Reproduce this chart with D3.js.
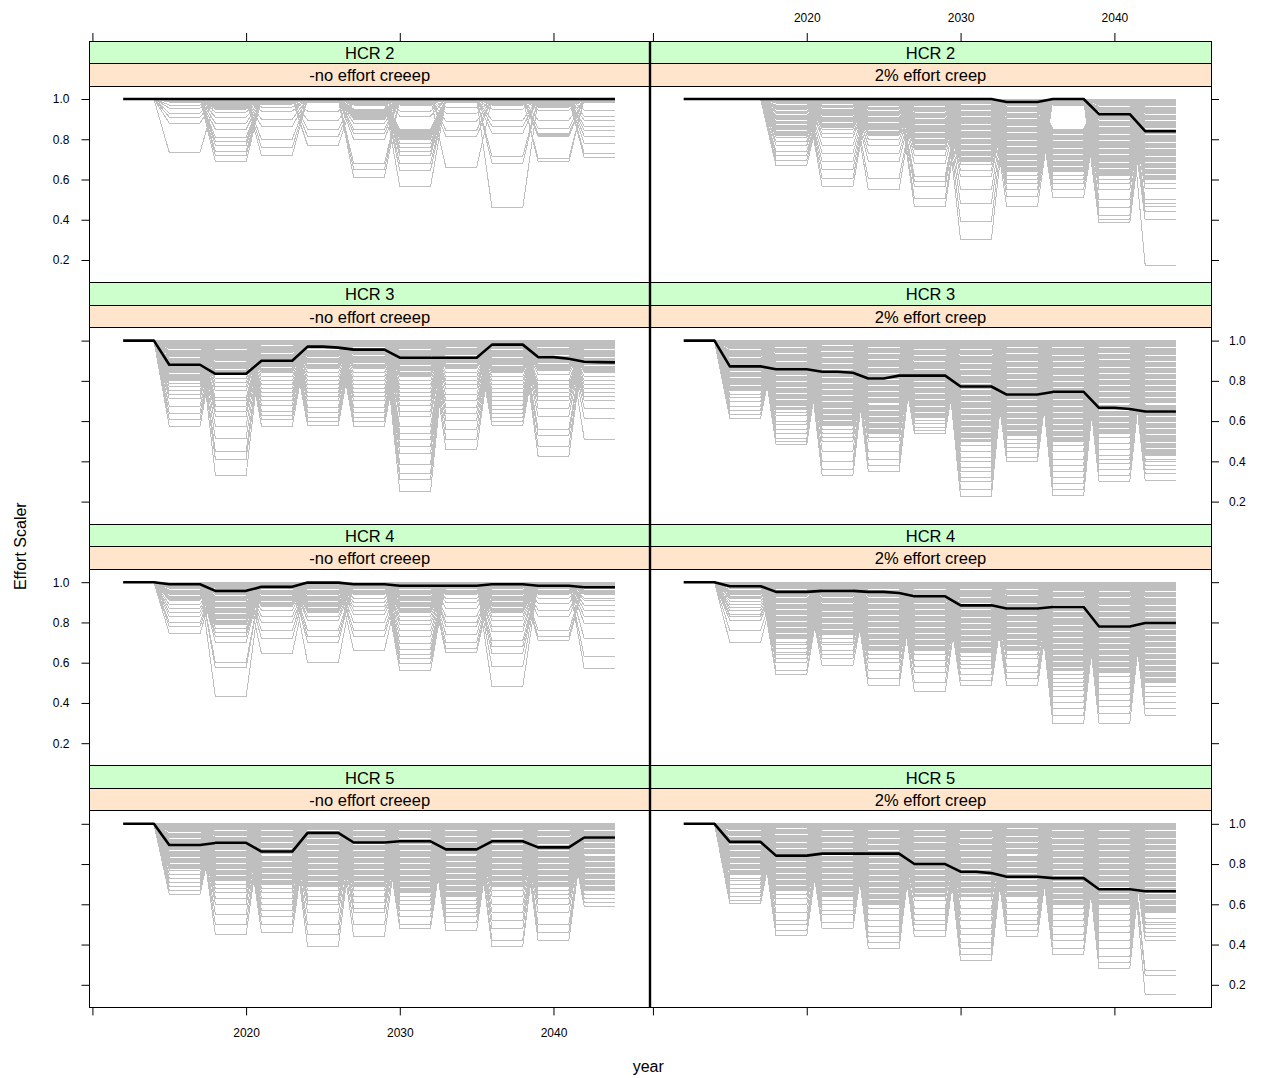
<!DOCTYPE html>
<html>
<head>
<meta charset="utf-8">
<script src="https://cdn.jsdelivr.net/npm/d3@7"></script>
<style>
  body { margin: 0; background: #fff; }
  svg { display: block; }
  text { font-family: "Liberation Sans", Arial, sans-serif; fill: #000; }
</style>
</head>
<body>
<svg id="chart" width="1266" height="1078"></svg>
<script>
// ---- data -------------------------------------------------------------
const medianYears = [2012, 2013, 2014, 2015, 2016, 2017, 2018, 2019, 2020, 2021, 2022,
  2023, 2024, 2025, 2026, 2027, 2028, 2029, 2030, 2031, 2032, 2033, 2034, 2035, 2036,
  2037, 2038, 2039, 2040, 2041, 2042, 2043, 2044];
const firstYear = 2012;
const startLevel = 1.0;                 // effort scaler before the first management block
const blockStarts = [2015, 2018, 2021, 2024, 2027, 2030, 2033, 2036, 2039, 2042];
const blockLength = 3;

const hcrLabels = ["HCR 2", "HCR 3", "HCR 4", "HCR 5"];
const creepLabels = ["-no effort creeep", "2% effort creep"];
const xTicks = [2010, 2020, 2030, 2040];
const xTickLabels = ["", "2020", "2030", "2040"];
const yTicks = [0.2, 0.4, 0.6, 0.8, 1.0];
const yTickLabels = ["0.2", "0.4", "0.6", "0.8", "1.0"];

// median effort scaler per year (black line)
const hcr2NoMedian = [1,1,1, 1,1,1, 1,1,1, 1,1,1, 1,1,1, 1,1,1, 1,1,1, 1,1,1, 1,1,1, 1,1,1, 1,1,1];
const hcr2CreepMedian = [1,1,1, 1,1,1, 1,1,1, 1,1,1, 1,1,1, 1,1,1, 1,1,1, 0.985,0.985,0.985, 1,1,1, 0.925,0.925,0.925, 0.84,0.84,0.84];
const hcr3NoMedian = [1,1,1, 0.88,0.88,0.88, 0.835,0.835,0.835, 0.9,0.9,0.9, 0.97,0.97,0.965, 0.955,0.955,0.955, 0.915,0.915,0.915, 0.915,0.915,0.915, 0.98,0.98,0.98, 0.918,0.918,0.91, 0.895,0.893,0.892];
const hcr3CreepMedian = [1,1,1, 0.872,0.872,0.872, 0.858,0.858,0.858, 0.845,0.845,0.84, 0.812,0.812,0.826, 0.826,0.826,0.826, 0.772,0.772,0.772, 0.732,0.732,0.732, 0.745,0.745,0.745, 0.666,0.666,0.66, 0.648,0.648,0.648];
const hcr4NoMedian = [1,1,1, 0.99,0.99,0.99, 0.957,0.957,0.957, 0.977,0.977,0.977, 0.998,0.998,0.998, 0.99,0.99,0.99, 0.982,0.982,0.982, 0.982,0.982,0.982, 0.99,0.99,0.99, 0.982,0.982,0.982, 0.975,0.975,0.975];
const hcr4CreepMedian = [1,1,1, 0.98,0.98,0.98, 0.952,0.952,0.952, 0.957,0.957,0.957, 0.952,0.952,0.946, 0.93,0.93,0.93, 0.885,0.885,0.885, 0.869,0.869,0.869, 0.877,0.877,0.877, 0.78,0.78,0.78, 0.797,0.797,0.797];
const hcr5NoMedian = [1,1,1, 0.895,0.895,0.895, 0.905,0.905,0.905, 0.862,0.862,0.862, 0.955,0.955,0.955, 0.907,0.907,0.907, 0.913,0.913,0.913, 0.873,0.873,0.873, 0.913,0.913,0.913, 0.883,0.883,0.883, 0.932,0.932,0.932];
const hcr5CreepMedian = [1,1,1, 0.91,0.91,0.91, 0.842,0.842,0.842, 0.852,0.852,0.852, 0.852,0.852,0.852, 0.8,0.8,0.8, 0.762,0.762,0.755, 0.737,0.737,0.737, 0.73,0.73,0.73, 0.675,0.675,0.675, 0.665,0.665,0.665];

// iteration levels per management block: a number is a single iteration level,
// a [high, low] pair is a tightly stacked run of iteration levels
const hcr2NoLevels = [
  [[1.0,0.985], 0.97, 0.955, 0.93, 0.91, 0.88, 0.735],
  [[1.0,0.95], 0.935, 0.91, 0.88, 0.85, 0.81, 0.79, 0.77, 0.74, 0.72, 0.69],
  [[1.0,0.975], 0.96, 0.94, 0.9, 0.865, 0.8, 0.76, 0.72],
  [[1.0,0.985], 0.94, 0.895, 0.85, 0.815, 0.77],
  [[1.0,0.97], [0.95,0.9], 0.88, 0.85, 0.83, 0.8, 0.68, 0.65, 0.61],
  [[1.0,0.97], 0.94, 0.915, [0.85,0.8], 0.78, 0.76, 0.74, 0.72, 0.68, 0.645, 0.565],
  [[1.0,0.985], 0.96, 0.93, 0.89, 0.845, 0.815, 0.66],
  [[1.0,0.97], 0.95, 0.895, 0.865, 0.83, 0.715, 0.68, 0.46],
  [[1.0,0.96], 0.945, 0.895, 0.855, [0.83,0.815], 0.705, 0.69],
  [[1.0,0.985], 0.945, 0.915, 0.895, 0.865, 0.845, 0.815, 0.78, 0.73, 0.71]
];
const hcr2CreepLevels = [
  [1.0],
  [[1.0,0.98],[0.97,0.95],[0.94,0.93],[0.92,0.9],[0.89,0.88],[0.87,0.85],[0.84,0.82], 0.81, 0.79, 0.77, 0.74, 0.72, 0.695, 0.67],
  [[1.0,0.98],[0.97,0.96],[0.95,0.92],[0.91,0.89],[0.88,0.86], 0.85, 0.83, 0.81, 0.77, 0.73, 0.69, 0.65, 0.605, 0.565],
  [[1.0,0.97],[0.96,0.95],[0.94,0.92],[0.91,0.89],[0.88,0.85],[0.84,0.82], 0.8, 0.77, 0.73, 0.69, 0.605, 0.55],
  [[1.0,0.97],[0.96,0.94],[0.93,0.91],[0.9,0.88],[0.87,0.84],[0.83,0.81],[0.8,0.78],[0.77,0.75], 0.72, 0.68, 0.615, 0.59, 0.565, 0.505, 0.465],
  [[1.0,0.98],[0.97,0.95],[0.94,0.92],[0.91,0.88],[0.87,0.85],[0.84,0.81],[0.8,0.78],[0.77,0.75],[0.74,0.72],[0.71,0.69], 0.675, 0.645, 0.615, 0.55, 0.48, 0.39, 0.3],
  [[1.0,0.97],[0.96,0.94],[0.93,0.91],[0.9,0.87],[0.86,0.84],[0.83,0.8],[0.79,0.77],[0.76,0.73],[0.72,0.7],[0.69,0.67],[0.66,0.64], 0.62, 0.6, 0.58, 0.55, 0.515, 0.465],
  [[1.0,0.97],[0.85,0.83],[0.82,0.8],[0.79,0.76],[0.75,0.73],[0.72,0.7],[0.69,0.67],[0.66,0.64], 0.62, 0.6, 0.58, 0.55, 0.51],
  [[1.0,0.97],[0.96,0.94],[0.93,0.9],[0.89,0.87],[0.86,0.83],[0.82,0.8],[0.79,0.76],[0.75,0.73],[0.72,0.69],[0.68,0.66],[0.65,0.62], 0.6, 0.58, 0.55, 0.5, 0.46, 0.42, 0.4, 0.385],
  [[1.0,0.97],[0.96,0.93],[0.92,0.9],[0.89,0.86],[0.85,0.83],[0.82,0.79],[0.78,0.76],[0.75,0.72],[0.71,0.69],[0.68,0.66],[0.65,0.63],[0.62,0.6], 0.58, 0.555, 0.5, 0.48, 0.465, 0.44, 0.4, 0.175]
];
const hcr3NoLevels = [
  [[1.0,0.96],[0.95,0.92],[0.91,0.88],[0.87,0.84],[0.83,0.8], 0.785, 0.77, 0.75, 0.73, 0.71, 0.675, 0.64, 0.607, 0.574],
  [[1.0,0.96],[0.95,0.9],[0.89,0.86],[0.85,0.83], 0.81, 0.79, 0.77, 0.75, 0.715, 0.7, 0.675, 0.65, 0.625, 0.575, 0.515, 0.45, 0.41, 0.33],
  [[1.0,0.98],[0.97,0.94],[0.93,0.9],[0.89,0.87],[0.86,0.84], 0.82, 0.8, 0.78, 0.76, 0.74, 0.72, 0.7, 0.68, 0.65, 0.63, 0.61, 0.575],
  [[1.0,0.96],[0.95,0.92],[0.91,0.89],[0.88,0.86], 0.84, 0.82, 0.8, 0.78, 0.76, 0.74, 0.72, 0.7, 0.67, 0.645, 0.62, 0.6, 0.58],
  [[1.0,0.97],[0.96,0.93],[0.92,0.89],[0.88,0.86], 0.84, 0.82, 0.8, 0.78, 0.76, 0.74, 0.72, 0.7, 0.67, 0.645, 0.62, 0.6, 0.575],
  [[1.0,0.96],[0.95,0.92],[0.91,0.88],[0.87,0.85],[0.84,0.82], 0.8, 0.78, 0.76, 0.74, 0.72, 0.7, 0.68, 0.65, 0.625, 0.575, 0.54, 0.51, 0.475, 0.44, 0.385, 0.34, 0.31, 0.25],
  [[1.0,0.97],[0.96,0.93],[0.92,0.89],[0.88,0.86], 0.84, 0.82, 0.8, 0.78, 0.76, 0.73, 0.7, 0.67, 0.64, 0.605, 0.56, 0.51, 0.46],
  [[1.0,0.96],[0.95,0.92],[0.91,0.88],[0.87,0.84], 0.82, 0.8, 0.78, 0.76, 0.74, 0.72, 0.7, 0.68, 0.66, 0.64, 0.62, 0.6, 0.58],
  [[1.0,0.97],[0.96,0.93],[0.92,0.89],[0.88,0.85], 0.83, 0.8, 0.78, 0.76, 0.74, 0.72, 0.7, 0.665, 0.625, 0.56, 0.53, 0.475, 0.425],
  [[1.0,0.96],[0.95,0.92],[0.91,0.88],[0.87,0.84], 0.82, 0.8, 0.78, 0.76, 0.74, 0.72, 0.7, 0.665, 0.615, 0.51]
];
const hcr3CreepLevels = [
  [[1.0,0.96],[0.95,0.92],[0.91,0.88],[0.87,0.85],[0.84,0.82],[0.81,0.78],[0.77,0.75], 0.73, 0.715, 0.695, 0.675, 0.655, 0.635, 0.615],
  [[1.0,0.97],[0.96,0.94],[0.93,0.9],[0.89,0.86],[0.85,0.83],[0.82,0.8],[0.79,0.77],[0.76,0.74],[0.73,0.71],[0.7,0.68],[0.67,0.66], 0.645, 0.63, 0.6, 0.585, 0.56, 0.54, 0.515, 0.5, 0.485],
  [[1.0,0.98],[0.97,0.95],[0.94,0.92],[0.91,0.89],[0.88,0.86],[0.85,0.82],[0.81,0.79],[0.78,0.76],[0.75,0.73],[0.72,0.7],[0.69,0.67],[0.66,0.64],[0.63,0.61],[0.6,0.58], 0.56, 0.54, 0.52, 0.5, 0.45, 0.4, 0.36, 0.33],
  [[1.0,0.97],[0.96,0.94],[0.93,0.91],[0.9,0.87],[0.86,0.84],[0.83,0.81],[0.8,0.78],[0.77,0.75],[0.74,0.72],[0.71,0.69],[0.68,0.66],[0.65,0.63],[0.62,0.6],[0.59,0.57],[0.56,0.54], 0.52, 0.5, 0.45, 0.41, 0.38, 0.35],
  [[1.0,0.96],[0.95,0.93],[0.92,0.9],[0.89,0.86],[0.85,0.83],[0.82,0.8],[0.79,0.77],[0.76,0.74],[0.73,0.71],[0.7,0.68],[0.67,0.65],[0.64,0.62], 0.605, 0.59, 0.57, 0.555, 0.54],
  [[1.0,0.96],[0.95,0.93],[0.92,0.89],[0.88,0.86],[0.85,0.83],[0.82,0.79],[0.78,0.76],[0.75,0.73],[0.72,0.7],[0.69,0.67],[0.66,0.64],[0.63,0.61],[0.6,0.58],[0.57,0.55],[0.54,0.52],[0.51,0.5], 0.48, 0.45, 0.42, 0.4, 0.37, 0.35, 0.32, 0.3, 0.26, 0.225],
  [[1.0,0.97],[0.96,0.94],[0.93,0.9],[0.89,0.87],[0.86,0.84],[0.83,0.81],[0.8,0.77],[0.76,0.74],[0.73,0.71],[0.7,0.68],[0.67,0.65],[0.64,0.62],[0.61,0.59],[0.58,0.56],[0.55,0.53], 0.51, 0.49, 0.47, 0.45, 0.42, 0.4],
  [[1.0,0.97],[0.96,0.93],[0.92,0.9],[0.89,0.87],[0.86,0.83],[0.82,0.8],[0.79,0.77],[0.76,0.74],[0.73,0.71],[0.7,0.68],[0.67,0.65],[0.64,0.62],[0.61,0.59],[0.58,0.56],[0.55,0.53],[0.52,0.5], 0.48, 0.45, 0.41, 0.38, 0.35, 0.32, 0.29, 0.26, 0.23],
  [[1.0,0.97],[0.96,0.94],[0.93,0.91],[0.9,0.87],[0.86,0.84],[0.83,0.81],[0.8,0.78],[0.77,0.75],[0.74,0.72],[0.71,0.69],[0.68,0.66],[0.65,0.63],[0.62,0.6],[0.59,0.57],[0.56,0.54], 0.52, 0.49, 0.46, 0.43, 0.41, 0.39, 0.36, 0.33, 0.3],
  [[1.0,0.97],[0.96,0.93],[0.92,0.9],[0.89,0.87],[0.86,0.84],[0.83,0.81],[0.8,0.78],[0.77,0.75],[0.74,0.72],[0.71,0.69],[0.68,0.66],[0.65,0.63],[0.62,0.6],[0.59,0.57],[0.56,0.54],[0.53,0.5],[0.49,0.47],[0.46,0.43], 0.41, 0.4, 0.38, 0.36, 0.34, 0.305]
];
const hcr4NoLevels = [
  [[1.0,0.97],[0.96,0.94],[0.93,0.91], 0.89, 0.87, 0.85, 0.83, 0.8, 0.78, 0.745],
  [[1.0,0.97],[0.96,0.94],[0.93,0.91],[0.9,0.88],[0.87,0.85],[0.84,0.82],[0.81,0.79], 0.77, 0.75, 0.73, 0.7, 0.6, 0.575, 0.43],
  [[1.0,0.97],[0.96,0.94],[0.93,0.91],[0.9,0.88], 0.86, 0.83, 0.8, 0.76, 0.72, 0.645],
  [[1.0,0.97],[0.96,0.94],[0.93,0.91],[0.9,0.88],[0.87,0.85], 0.83, 0.81, 0.76, 0.73, 0.7, 0.6],
  [[1.0,0.97],[0.96,0.94], 0.92, 0.9, 0.88, 0.86, 0.84, 0.8, 0.76, 0.73, 0.66],
  [[1.0,0.97],[0.96,0.94],[0.93,0.91],[0.9,0.88],[0.87,0.85], 0.83, 0.81, 0.79, 0.76, 0.73, 0.695, 0.665, 0.64, 0.62, 0.595, 0.56],
  [[1.0,0.97],[0.96,0.94], 0.92, 0.9, 0.87, 0.83, 0.8, 0.78, 0.74, 0.7, 0.67, 0.65],
  [[1.0,0.97],[0.96,0.94],[0.93,0.91],[0.9,0.88],[0.87,0.85], 0.83, 0.81, 0.78, 0.755, 0.71, 0.68, 0.645, 0.58, 0.48],
  [[1.0,0.97],[0.96,0.94], 0.92, 0.895, 0.86, 0.83, 0.76, 0.73, 0.71],
  [[1.0,0.97],[0.96,0.94], 0.92, 0.91, 0.885, 0.86, 0.83, 0.795, 0.72, 0.63, 0.57]
];
const hcr4CreepLevels = [
  [[1.0,0.97],[0.96,0.94],[0.93,0.92], 0.905, 0.89, 0.875, 0.86, 0.84, 0.83, 0.81, 0.76, 0.7],
  [[1.0,0.97],[0.96,0.93],[0.92,0.9],[0.89,0.87],[0.86,0.84],[0.83,0.81],[0.8,0.78],[0.77,0.75],[0.74,0.72], 0.7, 0.69, 0.67, 0.65, 0.64, 0.62, 0.6, 0.56, 0.54],
  [[1.0,0.97],[0.96,0.93],[0.92,0.9],[0.89,0.86],[0.85,0.83],[0.82,0.8],[0.79,0.77],[0.76,0.74], 0.72, 0.7, 0.69, 0.66, 0.64, 0.62, 0.585],
  [[1.0,0.97],[0.96,0.93],[0.92,0.9],[0.89,0.87],[0.86,0.84],[0.83,0.81],[0.8,0.78],[0.77,0.75],[0.74,0.72],[0.71,0.69],[0.68,0.66], 0.64, 0.62, 0.6, 0.56, 0.52, 0.485],
  [[1.0,0.97],[0.96,0.94],[0.93,0.9],[0.89,0.87],[0.86,0.84],[0.83,0.81],[0.8,0.78],[0.77,0.75],[0.74,0.72],[0.71,0.69],[0.68,0.66], 0.64, 0.61, 0.58, 0.55, 0.5, 0.455],
  [[1.0,0.97],[0.96,0.93],[0.92,0.9],[0.89,0.87],[0.86,0.83],[0.82,0.8],[0.79,0.77],[0.76,0.74],[0.73,0.71],[0.7,0.68],[0.67,0.65], 0.63, 0.61, 0.59, 0.57, 0.54, 0.51, 0.485],
  [[1.0,0.97],[0.96,0.94],[0.93,0.9],[0.89,0.87],[0.86,0.84],[0.83,0.81],[0.8,0.78],[0.77,0.75],[0.74,0.72],[0.71,0.69],[0.68,0.66], 0.64, 0.62, 0.58, 0.55, 0.52, 0.485],
  [[1.0,0.96],[0.95,0.93],[0.92,0.89],[0.88,0.86],[0.85,0.83],[0.82,0.79],[0.78,0.76],[0.75,0.73],[0.72,0.7],[0.69,0.67],[0.66,0.64],[0.63,0.61],[0.6,0.58],[0.57,0.56], 0.54, 0.52, 0.5, 0.48, 0.46, 0.43, 0.4, 0.37, 0.34, 0.3],
  [[1.0,0.96],[0.95,0.93],[0.92,0.89],[0.88,0.86],[0.85,0.83],[0.82,0.79],[0.78,0.76],[0.75,0.73],[0.72,0.7],[0.69,0.67],[0.66,0.64],[0.63,0.61],[0.6,0.58],[0.57,0.55], 0.53, 0.5, 0.47, 0.44, 0.41, 0.38, 0.35, 0.3],
  [[1.0,0.96],[0.95,0.93],[0.92,0.89],[0.88,0.86],[0.85,0.83],[0.82,0.8],[0.79,0.77],[0.76,0.74],[0.73,0.71],[0.7,0.68],[0.67,0.65],[0.64,0.62],[0.61,0.59],[0.58,0.56],[0.55,0.53],[0.52,0.5], 0.48, 0.45, 0.43, 0.4, 0.37, 0.34]
];
const hcr5NoLevels = [
  [[1.0,0.96],[0.95,0.93],[0.92,0.9],[0.89,0.87],[0.86,0.84],[0.83,0.81],[0.8,0.78], 0.77, 0.75, 0.73, 0.71, 0.69, 0.67, 0.65],
  [[1.0,0.97],[0.96,0.94],[0.93,0.9],[0.89,0.87],[0.86,0.84],[0.83,0.81],[0.8,0.78],[0.77,0.75],[0.74,0.72], 0.7, 0.68, 0.66, 0.63, 0.6, 0.55, 0.5, 0.45],
  [[1.0,0.97],[0.96,0.94],[0.93,0.91],[0.9,0.88],[0.87,0.85],[0.84,0.82],[0.81,0.79],[0.78,0.76],[0.75,0.73],[0.72,0.7], 0.68, 0.66, 0.63, 0.6, 0.57, 0.54, 0.5, 0.46],
  [[1.0,0.97],[0.96,0.93],[0.92,0.9],[0.89,0.87],[0.86,0.84],[0.83,0.81],[0.8,0.78],[0.77,0.75],[0.74,0.72],[0.71,0.69], 0.67, 0.64, 0.62, 0.6, 0.56, 0.5, 0.45, 0.39],
  [[1.0,0.97],[0.96,0.94],[0.93,0.9],[0.89,0.87],[0.86,0.84],[0.83,0.81],[0.8,0.78],[0.77,0.75],[0.74,0.72],[0.71,0.69], 0.67, 0.64, 0.61, 0.58, 0.56, 0.5, 0.44],
  [[1.0,0.97],[0.96,0.93],[0.92,0.9],[0.89,0.87],[0.86,0.84],[0.83,0.81],[0.8,0.78],[0.77,0.75],[0.74,0.72],[0.71,0.69],[0.68,0.66], 0.64, 0.62, 0.6, 0.57, 0.54, 0.5, 0.48],
  [[1.0,0.97],[0.96,0.94],[0.93,0.91],[0.9,0.88],[0.87,0.85],[0.84,0.82],[0.81,0.79],[0.78,0.76],[0.75,0.73],[0.72,0.7],[0.69,0.67],[0.66,0.64], 0.62, 0.6, 0.58, 0.56, 0.54, 0.51, 0.47],
  [[1.0,0.97],[0.96,0.93],[0.92,0.9],[0.89,0.87],[0.86,0.84],[0.83,0.81],[0.8,0.78],[0.77,0.75],[0.74,0.72],[0.71,0.69], 0.67, 0.64, 0.6, 0.56, 0.52, 0.48, 0.42, 0.39],
  [[1.0,0.97],[0.96,0.94],[0.93,0.9],[0.89,0.87],[0.86,0.84],[0.83,0.81],[0.8,0.78],[0.77,0.75],[0.74,0.72],[0.71,0.69], 0.67, 0.65, 0.63, 0.6, 0.56, 0.5, 0.46, 0.42],
  [[1.0,0.97],[0.96,0.94],[0.93,0.91],[0.9,0.88],[0.87,0.85],[0.84,0.82],[0.81,0.79],[0.78,0.76],[0.75,0.73],[0.72,0.7],[0.69,0.67], 0.65, 0.63, 0.61, 0.59]
];
const hcr5CreepLevels = [
  [[1.0,0.97],[0.96,0.94],[0.93,0.9],[0.89,0.87],[0.86,0.84],[0.83,0.81],[0.8,0.78],[0.77,0.75], 0.73, 0.72, 0.7, 0.68, 0.66, 0.64, 0.62, 0.605],
  [[1.0,0.98],[0.97,0.95],[0.94,0.91],[0.9,0.88],[0.87,0.85],[0.84,0.82],[0.81,0.79],[0.78,0.76],[0.75,0.73],[0.72,0.7],[0.69,0.67], 0.65, 0.63, 0.6, 0.56, 0.52, 0.5, 0.47, 0.445],
  [[1.0,0.97],[0.96,0.94],[0.93,0.91],[0.9,0.88],[0.87,0.85],[0.84,0.82],[0.81,0.79],[0.78,0.76],[0.75,0.73],[0.72,0.7],[0.69,0.67],[0.66,0.64], 0.62, 0.6, 0.57, 0.55, 0.51, 0.48],
  [[1.0,0.97],[0.96,0.93],[0.92,0.9],[0.89,0.87],[0.86,0.84],[0.83,0.81],[0.8,0.78],[0.77,0.75],[0.74,0.72],[0.71,0.69],[0.68,0.66],[0.65,0.63],[0.62,0.6], 0.58, 0.55, 0.52, 0.49, 0.46, 0.44, 0.41, 0.38],
  [[1.0,0.97],[0.96,0.94],[0.93,0.91],[0.9,0.87],[0.86,0.84],[0.83,0.81],[0.8,0.78],[0.77,0.75],[0.74,0.72],[0.71,0.69],[0.68,0.66],[0.65,0.64], 0.62, 0.58, 0.55, 0.52, 0.5, 0.47, 0.44],
  [[1.0,0.97],[0.96,0.93],[0.92,0.9],[0.89,0.87],[0.86,0.84],[0.83,0.81],[0.8,0.78],[0.77,0.75],[0.74,0.72],[0.71,0.69],[0.68,0.66],[0.65,0.64], 0.62, 0.58, 0.55, 0.52, 0.48, 0.45, 0.41, 0.38, 0.35, 0.32],
  [[1.0,0.98],[0.97,0.94],[0.93,0.91],[0.9,0.88],[0.87,0.85],[0.84,0.82],[0.81,0.79],[0.78,0.76],[0.75,0.73],[0.72,0.7],[0.69,0.67],[0.66,0.64], 0.61, 0.58, 0.55, 0.52, 0.5, 0.47, 0.44],
  [[1.0,0.97],[0.96,0.93],[0.92,0.9],[0.89,0.87],[0.86,0.84],[0.83,0.81],[0.8,0.78],[0.77,0.75],[0.74,0.72],[0.71,0.69],[0.68,0.66],[0.65,0.63],[0.62,0.6], 0.58, 0.55, 0.52, 0.49, 0.45, 0.42, 0.38, 0.35],
  [[1.0,0.97],[0.96,0.93],[0.92,0.9],[0.89,0.87],[0.86,0.84],[0.83,0.81],[0.8,0.78],[0.77,0.75],[0.74,0.72],[0.71,0.69],[0.68,0.66],[0.65,0.63],[0.62,0.6], 0.58, 0.55, 0.52, 0.49, 0.46, 0.42, 0.38, 0.34, 0.31, 0.28],
  [[1.0,0.97],[0.96,0.93],[0.92,0.9],[0.89,0.87],[0.86,0.84],[0.83,0.81],[0.8,0.78],[0.77,0.75],[0.74,0.72],[0.71,0.69],[0.68,0.66],[0.65,0.63],[0.62,0.6],[0.59,0.56], 0.53, 0.51, 0.5, 0.48, 0.46, 0.44, 0.42, 0.27, 0.245, 0.15]
];

const panels = [
  { row: 0, col: 0, levels: hcr2NoLevels,    median: hcr2NoMedian },
  { row: 0, col: 1, levels: hcr2CreepLevels, median: hcr2CreepMedian },
  { row: 1, col: 0, levels: hcr3NoLevels,    median: hcr3NoMedian },
  { row: 1, col: 1, levels: hcr3CreepLevels, median: hcr3CreepMedian },
  { row: 2, col: 0, levels: hcr4NoLevels,    median: hcr4NoMedian },
  { row: 2, col: 1, levels: hcr4CreepLevels, median: hcr4CreepMedian },
  { row: 3, col: 0, levels: hcr5NoLevels,    median: hcr5NoMedian },
  { row: 3, col: 1, levels: hcr5CreepLevels, median: hcr5CreepMedian }
];

// ---- layout -----------------------------------------------------------
const frameLeft = 89.5, frameMid = 650, frameRight = 1211;
const frameTop = 41, rowH = 241.6, stripH = 22.5;
const frameBottom = frameTop + 4 * rowH;
const colRange = [[frameLeft, frameMid], [frameMid, frameRight]];
const xDomain = [2009.81, 2046.28];
const yDomain = [0.0877, 1.0646];
const grey = "#bfbfbf";
const stripColors = ["#ccffcc", "#ffe5cc"];
const tickLen = 8;

const svg = d3.select("#chart");
const defs = svg.append("defs");

function xScale(col) {
  return d3.scaleLinear().domain(xDomain).range(colRange[col]);
}
function yScale(row) {
  const top = frameTop + row * rowH + 2 * stripH;
  return d3.scaleLinear().domain(yDomain).range([frameTop + (row + 1) * rowH, top]);
}

// ---- panels -----------------------------------------------------------
panels.forEach((p, k) => {
  const x = xScale(p.col), y = yScale(p.row);
  const rowTop = frameTop + p.row * rowH;
  const plotTop = rowTop + 2 * stripH, plotBottom = rowTop + rowH;
  const [x0, x1] = colRange[p.col];

  defs.append("clipPath").attr("id", "clip" + k)
    .append("rect").attr("x", x0).attr("y", plotTop)
    .attr("width", x1 - x0).attr("height", plotBottom - plotTop);

  const g = svg.append("g").attr("clip-path", `url(#clip${k})`);
  const gl = g.append("g").attr("shape-rendering", "crispEdges");

  // level at the top of each block, where iterations that move enter and leave
  const tops = p.levels.map(b => d3.max(b, d => Array.isArray(d) ? d[0] : d));
  const line = d3.line().x(d => x(d[0])).y(d => y(d[1]));

  // constant effort before the first block
  gl.append("path")
    .attr("d", line([[firstYear, startLevel], [blockStarts[0] - 1, startLevel]]))
    .attr("fill", "none").attr("stroke", grey).attr("stroke-width", 1);

  p.levels.forEach((block, i) => {
    const s = blockStarts[i], e = s + blockLength - 1;
    const prevTop = i === 0 ? startLevel : tops[i - 1];
    const hasNext = i < p.levels.length - 1;
    const nextTop = hasNext ? tops[i + 1] : null;
    block.forEach(d => {
      if (Array.isArray(d)) {
        const [hi, lo] = d;
        const pts = [[s - 1, prevTop], [s, hi], [e, hi]];
        if (hasNext) pts.push([e + 1, nextTop]);
        pts.push([e, lo], [s, lo]);
        gl.append("path").attr("d", line(pts) + "Z")
          .attr("fill", grey).attr("stroke", grey).attr("stroke-width", 1);
      } else {
        const pts = [[s - 1, prevTop], [s, d], [e, d]];
        if (hasNext) pts.push([e + 1, nextTop]);
        gl.append("path").attr("d", line(pts))
          .attr("fill", "none").attr("stroke", grey).attr("stroke-width", 1);
      }
    });
  });

  // median line
  g.append("path")
    .datum(medianYears.map((yr, j) => [yr, p.median[j]]))
    .attr("d", line)
    .attr("fill", "none").attr("stroke", "#000").attr("stroke-width", 2.6)
    .attr("stroke-linejoin", "round");

  // panel border
  svg.append("rect").attr("x", x0).attr("y", plotTop)
    .attr("width", x1 - x0).attr("height", plotBottom - plotTop)
    .attr("fill", "none").attr("stroke", "#000").attr("stroke-width", 1)
    .attr("shape-rendering", "crispEdges");

  // strips: HCR on top, effort creep beneath
  [hcrLabels[p.row], creepLabels[p.col]].forEach((label, s) => {
    const sy = rowTop + s * stripH;
    svg.append("rect").attr("x", x0).attr("y", sy)
      .attr("width", x1 - x0).attr("height", stripH)
      .attr("fill", stripColors[s]).attr("stroke", "#000").attr("stroke-width", 1)
      .attr("shape-rendering", "crispEdges");
    svg.append("text").attr("x", (x0 + x1) / 2).attr("y", sy + stripH / 2 + 6.5)
      .attr("text-anchor", "middle").attr("font-size", 16.5).text(label);
  });
});

// heavy rule between the two columns
svg.append("line").attr("x1", frameMid).attr("x2", frameMid)
  .attr("y1", frameTop).attr("y2", frameBottom)
  .attr("stroke", "#000").attr("stroke-width", 2.4);

// ---- axes -------------------------------------------------------------
function styleAxis(sel) {
  sel.select(".domain").remove();
  sel.selectAll(".tick line").attr("stroke", "#000");
  sel.selectAll(".tick text").attr("font-size", 12).attr("fill", "#000")
    .attr("font-family", "\"Liberation Sans\", Arial, sans-serif");
}
const xFmt = v => xTickLabels[xTicks.indexOf(v)];
const yFmt = v => yTickLabels[yTicks.indexOf(v)];

[0, 1].forEach(col => {
  const x = xScale(col);
  // bottom: labelled on the left column only
  svg.append("g").attr("transform", `translate(0,${frameBottom})`)
    .call(d3.axisBottom(x).tickValues(xTicks).tickSize(tickLen).tickPadding(13)
      .tickFormat(col === 0 ? xFmt : () => ""))
    .call(styleAxis);
  // top: labelled on the right column only
  svg.append("g").attr("transform", `translate(0,${frameTop})`)
    .call(d3.axisTop(x).tickValues(xTicks).tickSize(tickLen).tickPadding(11)
      .tickFormat(col === 1 ? xFmt : () => ""))
    .call(styleAxis);
});

[0, 1, 2, 3].forEach(row => {
  const y = yScale(row);
  svg.append("g").attr("transform", `translate(${frameLeft},0)`)
    .call(d3.axisLeft(y).tickValues(yTicks).tickSize(tickLen).tickPadding(12)
      .tickFormat(row % 2 === 0 ? yFmt : () => ""))
    .call(styleAxis);
  svg.append("g").attr("transform", `translate(${frameRight},0)`)
    .call(d3.axisRight(y).tickValues(yTicks).tickSize(tickLen).tickPadding(10)
      .tickFormat(row % 2 === 1 ? yFmt : () => ""))
    .call(styleAxis);
});

// ---- titles -----------------------------------------------------------
svg.append("text").attr("x", (frameLeft + frameRight) / 2 - 2).attr("y", 1072)
  .attr("text-anchor", "middle").attr("font-size", 16).text("year");
svg.append("text")
  .attr("transform", `translate(26,${(frameTop + frameBottom) / 2 + 22}) rotate(-90)`)
  .attr("text-anchor", "middle").attr("font-size", 16).text("Effort Scaler");
</script>
</body>
</html>
